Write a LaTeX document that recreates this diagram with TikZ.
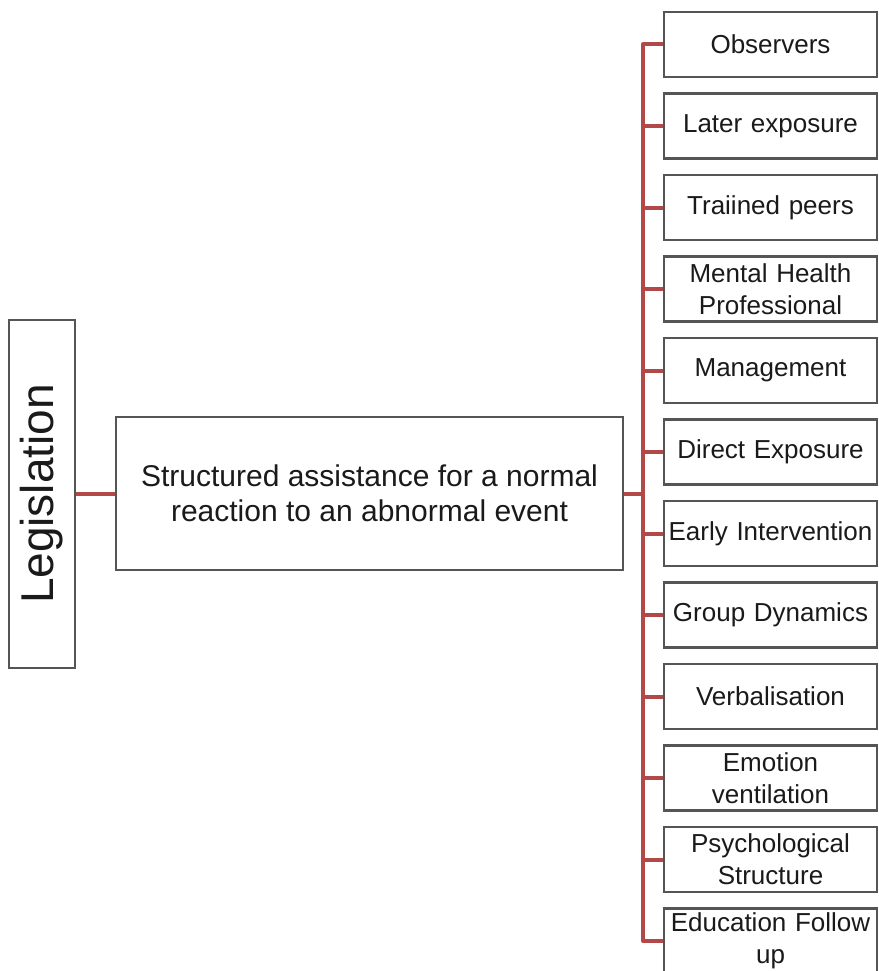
\documentclass[tikz,border=0pt]{standalone}
\usepackage{fontspec}
\setmainfont{Liberation Sans}
\usetikzlibrary{backgrounds}
\definecolor{linkred}{RGB}{178,72,72}
\definecolor{boxgray}{RGB}{85,85,85}
\definecolor{ink}{RGB}{26,26,26}
\begin{document}
\begin{tikzpicture}[x=1pt,y=-1pt,
  box/.style={draw=boxgray, line width=2.4pt, fill=white, inner sep=0pt, outer sep=0pt, align=center, text=ink},
  item/.style={box, minimum width=213pt, minimum height=65pt, text width=213pt,
               font=\fontsize{26}{32}\selectfont},
  link/.style={draw=linkred, line width=4pt, line join=round}]
\useasboundingbox (0,0) rectangle (878,971);
\clip (0,0) rectangle (878,971);

% left-hand column
\node[box, minimum width=348pt, minimum height=66pt, rotate=90,
      font=\fontsize{46}{50}\selectfont] (leg) at (42,494) {Legislation};
\node[box, minimum width=507pt, minimum height=153pt,
      font=\fontsize{30}{35}\selectfont] (main) at (369.5,493.5)
      {Structured assistance for a normal\\reaction to an abnormal event};

% right-hand column
\node[item] (i1)  at (770.5, 44.5) {Observers};
\node[item] (i2)  at (770.5,126.0) {Later exposure};
\node[item] (i3)  at (770.5,207.5) {Traiined peers};
\node[item] (i4)  at (770.5,289.0) {Mental Health\\Professional};
\node[item] (i5)  at (770.5,370.5) {Management};
\node[item] (i6)  at (770.5,452.0) {Direct Exposure};
\node[item] (i7)  at (770.5,533.5) {Early Intervention};
\node[item] (i8)  at (770.5,615.0) {Group Dynamics};
\node[item] (i9)  at (770.5,696.5) {Verbalisation};
\node[item] (i10) at (770.5,778.0) {Emotion\\ventilation};
\node[item] (i11) at (770.5,859.5) {Psychological\\Structure};
\node[item] (i12) at (770.5,941.0) {Education Follow\\up};

\coordinate (tr) at (643,0);

% connectors
\begin{pgfonlayer}{background}
  \draw[link] (main.west) -- (main.west -| leg.south);
  \draw[link] (main.east) -- (main.east -| tr);
  \draw[link] (i1.west) -- (i1.west -| tr) -- (i12.west -| tr) -- (i12.west);
  \foreach \n in {i2,i3,i4,i5,i6,i7,i8,i9,i10,i11}
    \draw[link] (\n.west) -- (\n.west -| tr);
\end{pgfonlayer}
\end{tikzpicture}
\end{document}
